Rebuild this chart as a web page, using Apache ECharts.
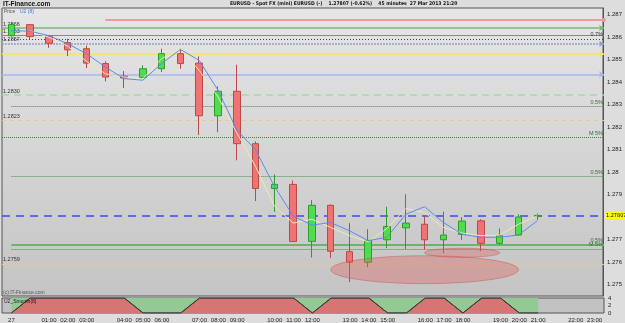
<!DOCTYPE html>
<html>
<head>
<meta charset="utf-8">
<script src="https://cdn.jsdelivr.net/npm/echarts@6/dist/echarts.min.js"></script>
<style>
html,body{margin:0;padding:0;background:#dddddd}
#main{width:625px;height:323px}
</style>
</head>
<body>
<div id="main"></div>
<script>
// 45 minute bars, 27 Mar 2013
var times = ['00:00','00:45','01:30','02:15','03:00','03:45','04:30','05:15','06:00','06:45','07:30','08:15',
    '09:00','09:45','10:30','11:15','12:00','12:45','13:30','14:15','15:00','15:45','16:30','17:15',
    '18:00','18:45','19:30','20:15','21:00','21:45','22:30','23:15'];
var tickLabels = ['27','','01:00','02:00','03:00','','04:00','05:00','06:00','','07:00','08:00',
    '09:00','','10:00','11:00','12:00','','13:00','14:00','15:00','','16:00','17:00',
    '18:00','','19:00','20:00','21:00','','22:00','23:00'];
// open, close, low, high
var candles = [
    [1.28607,1.28656,1.28603,1.28669],
    [1.28656,1.28603,1.28593,1.28659],
    [1.28604,1.28573,1.28553,1.28610],
    [1.28576,1.28544,1.28516,1.28593],
    [1.28549,1.28485,1.28463,1.28563],
    [1.28483,1.28423,1.28404,1.28493],
    [1.28427,1.28419,1.28375,1.28450],
    [1.28421,1.28460,1.28416,1.28475],
    [1.28460,1.28527,1.28445,1.28549],
    [1.28527,1.28483,1.28460,1.28549],
    [1.28485,1.28251,1.28166,1.28515],
    [1.28251,1.28360,1.28178,1.28382],
    [1.28360,1.28127,1.28053,1.28478],
    [1.28127,1.27928,1.27872,1.28137],
    [1.27928,1.27946,1.27824,1.27990],
    [1.27946,1.27692,1.27690,1.27963],
    [1.27693,1.27853,1.27621,1.27876],
    [1.27853,1.27649,1.27619,1.27857],
    [1.27647,1.27600,1.27512,1.27774],
    [1.27600,1.27697,1.27578,1.27747],
    [1.27700,1.27759,1.27663,1.27847],
    [1.27753,1.27774,1.27659,1.27902],
    [1.27769,1.27700,1.27656,1.27806],
    [1.27700,1.27721,1.27640,1.27825],
    [1.27724,1.27783,1.27699,1.27801],
    [1.27784,1.27684,1.27649,1.27791],
    [1.27684,1.27718,1.27677,1.27750],
    [1.27721,1.27801,1.27718,1.27813],
    [1.27803,1.27807,1.27788,1.27816]
];
var maBlue = [1.28629,1.28627,1.28607,1.28571,1.28527,1.28468,1.28416,1.28409,1.28483,1.28546,
    1.28497,1.28365,1.28188,1.28100,1.27938,1.27806,1.27765,1.27777,1.27740,1.27696,
    1.27711,1.27813,1.27847,1.27777,1.27724,1.27711,1.27711,1.27721,1.27784];
var maPale = ['-',1.28629,1.28600,1.28560,1.28493,1.28438,1.28423,1.28416,1.28505,1.28549,
    1.28453,1.28335,1.28175,1.28026,1.27850,1.27774,1.27791,1.27755,1.27718,1.27691,
    1.27750,1.27839,1.27821,1.27755,1.27730,1.27718,1.27721,1.27769,1.27806];
var smooth = [0,4,4,4,4,4,4,0,0,0,4,4,4,4,4,4,0,4,4,4,0,0,4,4,0,4,4,0,0];
// horizontal levels drawn on the price panel
var levelPrices = [1.28677,1.28641,1.28609,1.28593,1.28571,1.28525,1.28435,1.28343,
    1.28293,1.28232,1.28156,1.27980,1.27807,1.27677,1.27660,1.27593];
var levelStart = [5,null,null,null,null,null,null,null,0,null,null,0,null,0,0,null];
var levelText = ['','1.2866','1.2863','0.7%','1.2857','','','1.2830',
    '0.5%','1.2823','M 5%','0.5%','1.27807','0.5%','M 5%','1.2759'];
// ellipse annotations: center bar, center price, half width (bars), half height (price)
var ellipses = [[22,1.27567,5,0.00062],[24,1.27642,2,0.0002]];

var levelStyle = [
    {c:'#f29a9a',w:2,t:'solid',sym:'circle',lp:null},
    {c:'#77bb77',w:1.5,t:'solid',sym:'arrow',lp:'insideStartTop'},
    {c:'#8a8a8a',w:1,t:'solid',sym:'none',lp:'insideStartTop'},
    {c:'#444444',w:1,t:[1,2],sym:'none',lp:'insideEndTop'},
    {c:'#8ea0d8',w:1.5,t:[2,1],sym:'arrow',lp:'insideStartTop'},
    {c:'#f4e45a',w:1.5,t:'solid',sym:'arrow',lp:null},
    {c:'#a4b8f2',w:1.5,t:'solid',sym:'arrow',lp:null},
    {c:'#a9d6a9',w:1.5,t:[7,5],sym:'none',lp:'insideStartTop'},
    {c:'#3c963c',w:1,t:[1,1],sym:'none',lp:'insideEndTop'},
    {c:'#f2c68a',w:1,t:[4,4],sym:'none',lp:'insideStartTop'},
    {c:'#4c7a4c',w:1,t:[1,1],sym:'none',lp:'insideEndTop'},
    {c:'#3c963c',w:1,t:[1,1],sym:'none',lp:'insideEndTop'},
    {c:'#3a4af0',w:1.5,t:[8,6],sym:'none',lp:'end'},
    {c:'#6cb46c',w:2,t:'solid',sym:'none',lp:'insideEndTop'},
    {c:'#3c963c',w:1,t:[1,1],sym:'none',lp:'insideEndTop'},
    {c:'#f2c68a',w:1,t:[4,4],sym:'none',lp:'insideStartTop'}
];

var chart = echarts.init(document.getElementById('main'));
var font = 'Liberation Sans, Arial, sans-serif';
var narrow = 'Liberation Sans Narrow, DejaVu Sans Condensed, Liberation Sans, sans-serif';

var lines = [];
// blue halo under the yellow level
lines.push([{yAxis:levelPrices[5],lineStyle:{color:'#9fb0ee',width:3.5,type:'solid'},symbol:'none',label:{show:false}},
    {x:'96.6%',yAxis:levelPrices[5],symbol:'none'}]);
levelPrices.forEach(function(p,i){
    var s = levelStyle[i];
    var lab = {show:false};
    if(s.lp && levelText[i]){
        lab = {show:true,position:s.lp,formatter:levelText[i],fontSize:5.5,fontFamily:font,
            color:s.lp.indexOf('End')>0?'#2f6f2f':'#333',distance:1};
        if(i==3) lab.color='#333';
        if(s.lp=='end'){
            lab = {show:true,position:'end',formatter:levelText[i],fontSize:5.5,fontFamily:narrow,color:'#000',
                backgroundColor:'#ffff00',padding:[1,1,0,1],distance:1};
        }
    }
    var from = levelStart[i]==null ? {x:'0.32%',yAxis:p} : {xAxis:levelStart[i],yAxis:p};
    from.lineStyle = {color:s.c,width:s.w,type:s.t,opacity:1};
    from.label = lab;
    from.symbol = 'none';
    lines.push([from,{x:'96.64%',yAxis:p,symbol:s.sym,symbolSize:s.sym=='circle'?4:5,
        itemStyle:{color:s.c}}]);
});

var option = {
    backgroundColor:'#dddddd',
    animation:false,
    textStyle:{fontFamily:font},
    grid:[
        {left:2,right:21,top:8,bottom:27,show:true,borderColor:'#555',borderWidth:1,
            backgroundColor:new echarts.graphic.LinearGradient(0,0,0,1,[{offset:0,color:'#e6e6e6'},{offset:1,color:'#c4c4c4'}])},
        {left:2,right:21,top:298,height:16,show:true,borderColor:'#555',borderWidth:1,backgroundColor:'#c2c2c2'}
    ],
    xAxis:[
        {type:'category',gridIndex:0,data:times,boundaryGap:true,axisLine:{show:false},axisTick:{show:false},
            axisLabel:{show:false},splitLine:{show:false}},
        {type:'category',gridIndex:1,data:times,boundaryGap:true,axisLine:{show:false},axisTick:{show:false},
            splitLine:{show:false},
            axisLabel:{interval:0,fontSize:6,color:'#222',margin:4,
                formatter:function(v,i){return tickLabels[i];}}}
    ],
    yAxis:[
        {type:'value',gridIndex:0,position:'right',min:1.2745,max:1.2873,interval:0.0005,
            axisLine:{show:true,lineStyle:{color:'#555'}},axisTick:{show:false},splitLine:{show:false},
            axisLabel:{fontSize:6,color:'#222',margin:4,showMinLabel:true,showMaxLabel:false,
                formatter:function(v){
                    if(Math.abs(v*1000-Math.round(v*1000))>1e-6) return '';
                    return String(+v.toFixed(3));
                }}},
        {type:'value',gridIndex:1,position:'right',min:0,max:4,interval:2,
            axisLine:{show:false},axisTick:{show:false},splitLine:{show:false},
            axisLabel:{fontSize:6,color:'#222',margin:4}}
    ],
    series:[
        {type:'candlestick',xAxisIndex:0,yAxisIndex:0,data:candles,barWidth:7,z:3,
            itemStyle:{color:'#4fdc4f',color0:'#f07272',borderColor:'#2f9a2f',borderColor0:'#b84a4a',borderWidth:1},
            markLine:{silent:true,animation:false,symbol:['none','none'],z:1,data:lines}},
        {type:'line',xAxisIndex:0,yAxisIndex:0,data:maPale,showSymbol:false,z:4,
            lineStyle:{color:'#efe9b4',width:1}},
        {type:'line',xAxisIndex:0,yAxisIndex:0,data:maBlue,showSymbol:false,z:5,
            lineStyle:{color:'#5a8cf0',width:1}},
        {type:'line',xAxisIndex:1,yAxisIndex:1,data:smooth,showSymbol:false,
            lineStyle:{color:'#3a3a3a',width:1},areaStyle:{color:'#d77474',opacity:1,origin:'start'}},
        {type:'line',xAxisIndex:1,yAxisIndex:1,data:smooth,showSymbol:false,
            lineStyle:{color:'#3a3a3a',width:1},areaStyle:{color:'#93c993',opacity:1,origin:'end'}}
    ],
    graphic:[
        {type:'text',left:3,top:1,style:{text:'IT-Finance.com',font:'bold 6.5px '+font,fill:'#111'}},
        {type:'text',left:230,top:1.5,style:{text:'EURUSD - Spot FX (mini) EURUSD (-)    1.27807 (-0.62%)    45 minutes  27 Mar 2013 21:20',
            font:'bold 5px '+narrow,fill:'#111'}},
        {type:'text',left:4,top:9.5,z:10,style:{text:'Price',font:'5px '+font,fill:'#555'}},
        {type:'text',left:20,top:9.5,z:10,style:{text:'U2 (8)',font:'5px '+font,fill:'#4477dd'}},
        {type:'text',left:3,top:290,z:10,style:{text:'(c) IT-Finance.com',font:'5px '+font,fill:'#555'}},
        {type:'text',left:4,top:299,z:10,style:{text:'U2_Smooth(8)',font:'5px '+font,fill:'#222'}}
    ]
};
chart.setOption(option);

// ellipse annotations placed through the chart's own scales
var shapes = ellipses.map(function(e,i){
    var c = chart.convertToPixel({gridIndex:0},[e[0],e[1]]);
    var r = chart.convertToPixel({gridIndex:0},[e[0]+e[2],e[1]+e[3]]);
    return {type:'ellipse',id:'ell'+i,z:20,silent:true,
        shape:{cx:c[0],cy:c[1],rx:Math.abs(r[0]-c[0]),ry:Math.abs(c[1]-r[1])},
        style:{fill:'rgba(222,100,100,0.38)',stroke:'rgba(200,80,80,0.45)',lineWidth:1}};
});
chart.setOption({graphic:shapes});
</script>
</body>
</html>
